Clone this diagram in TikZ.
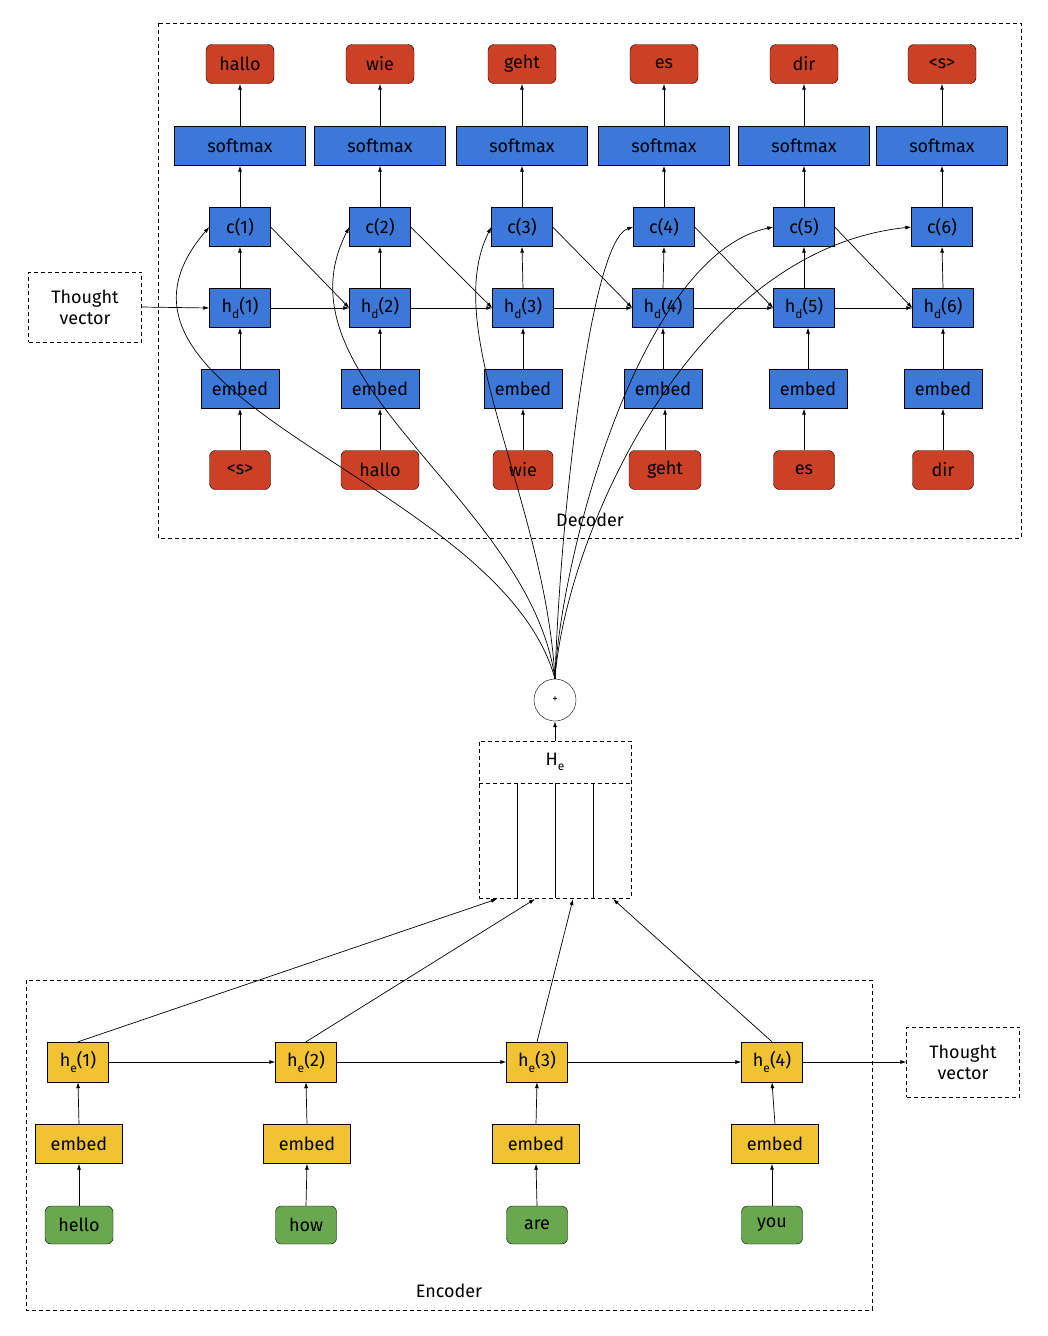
\documentclass[tikz,border=0pt]{standalone}
\usepackage{fontspec}
\setmainfont{Fira Sans}
\usetikzlibrary{arrows.meta}
\definecolor{tokred}{HTML}{CC4125}
\definecolor{layblue}{HTML}{3C78D8}
\definecolor{encyel}{HTML}{F1C232}
\definecolor{wordgrn}{HTML}{6AA84F}
\newcommand{\hsub}[2]{h\raisebox{-0.6ex}{\fontsize{12}{12}\selectfont #1}(#2)}

\begin{document}
\begin{tikzpicture}[
    x=1pt, y=-1pt,
    every node/.style={font=\fontsize{18}{21}\selectfont},
    tok/.style={draw, rectangle, rounded corners=6pt, fill=tokred, minimum width=68pt, minimum height=39pt, inner sep=0pt},
    layer/.style={draw, rectangle, fill=layblue, minimum height=39pt, inner sep=0pt},
    enc/.style={draw, rectangle, fill=encyel, minimum height=40pt, inner sep=0pt},
    word/.style={draw, rectangle, rounded corners=6pt, fill=wordgrn, minimum width=61pt, minimum height=38pt, inner sep=0pt},
    thought/.style={draw, dashed, dash pattern=on 4pt off 3pt, minimum width=113pt, minimum height=70pt, align=center},
    frame/.style={draw, dash pattern=on 4pt off 3pt},
    arr/.style={-{Latex[length=6pt,width=4pt]}, line width=0.7pt}
]
\useasboundingbox (0,0) rectangle (1047,1336);

% Decoder
\draw[frame] (158,23) rectangle (1021,538);
\node (declab) at (590,520) {Decoder};

\node[tok] (o1) at (240,64) {hallo};
\node[tok] (o2) at (380,64) {wie};
\node[tok] (o3) at (522,64) {geht};
\node[tok] (o4) at (664,64) {es};
\node[tok] (o5) at (804,64) {dir};
\node[tok] (o6) at (942,64) {<s>};

\node[layer, minimum width=131pt] (sm1) at (240,146) {softmax};
\node[layer, minimum width=131pt] (sm2) at (380,146) {softmax};
\node[layer, minimum width=131pt] (sm3) at (522,146) {softmax};
\node[layer, minimum width=131pt] (sm4) at (664,146) {softmax};
\node[layer, minimum width=131pt] (sm5) at (804,146) {softmax};
\node[layer, minimum width=131pt] (sm6) at (942,146) {softmax};

\node[layer, minimum width=61pt] (c1) at (240,227) {c(1)};
\node[layer, minimum width=61pt] (c2) at (380,227) {c(2)};
\node[layer, minimum width=61pt] (c3) at (522,227) {c(3)};
\node[layer, minimum width=61pt] (c4) at (664,227) {c(4)};
\node[layer, minimum width=61pt] (c5) at (804,227) {c(5)};
\node[layer, minimum width=61pt] (c6) at (942,227) {c(6)};

\node[layer, minimum width=61pt] (hd1) at (240,308) {\hsub{d}{1}};
\node[layer, minimum width=61pt] (hd2) at (380,308) {\hsub{d}{2}};
\node[layer, minimum width=61pt] (hd3) at (523,308) {\hsub{d}{3}};
\node[layer, minimum width=61pt] (hd4) at (663,308) {\hsub{d}{4}};
\node[layer, minimum width=61pt] (hd5) at (804,308) {\hsub{d}{5}};
\node[layer, minimum width=61pt] (hd6) at (943,308) {\hsub{d}{6}};

\node[layer, minimum width=78pt] (e1) at (240,389) {embed};
\node[layer, minimum width=78pt] (e2) at (380,389) {embed};
\node[layer, minimum width=78pt] (e3) at (523,389) {embed};
\node[layer, minimum width=78pt] (e4) at (663,389) {embed};
\node[layer, minimum width=78pt] (e5) at (808,389) {embed};
\node[layer, minimum width=78pt] (e6) at (943,389) {embed};

\node[tok, minimum width=61pt] (i1) at (240,470) {<s>};
\node[tok, minimum width=78pt] (i2) at (380,470) {hallo};
\node[tok, minimum width=60pt] (i3) at (523,470) {wie};
\node[tok, minimum width=72pt] (i4) at (665,470) {geht};
\node[tok, minimum width=61pt] (i5) at (804,470) {es};
\node[tok, minimum width=61pt] (i6) at (943,470) {dir};

\node[thought] (tvd) at (85,307) {Thought\\vector};

\draw[arr] (i1.north) -- (e1.south);
\draw[arr] (i2.north) -- (e2.south);
\draw[arr] (i3.north) -- (e3.south);
\draw[arr] (i4.north) -- (i4.north |- e4.south);
\draw[arr] (i5.north) -- (i5.north |- e5.south);
\draw[arr] (i6.north) -- (e6.south);

\draw[arr] (e1.north) -- (hd1.south);
\draw[arr] (e2.north) -- (hd2.south);
\draw[arr] (e3.north) -- (hd3.south);
\draw[arr] (e4.north) -- (hd4.south);
\draw[arr] (e5.north) -- (e5.north |- hd5.south);
\draw[arr] (e6.north) -- (hd6.south);

\draw[arr] (hd1.north) -- (c1.south);
\draw[arr] (hd2.north) -- (c2.south);
\draw[arr] (hd3.north) -- (c3.south);
\draw[arr] (hd4.north) -- (c4.south);
\draw[arr] (hd5.north) -- (c5.south);
\draw[arr] (hd6.north) -- (c6.south);

\draw[arr] (c1.north) -- (sm1.south);
\draw[arr] (c2.north) -- (sm2.south);
\draw[arr] (c3.north) -- (sm3.south);
\draw[arr] (c4.north) -- (sm4.south);
\draw[arr] (c5.north) -- (sm5.south);
\draw[arr] (c6.north) -- (sm6.south);

\draw[arr] (sm1.north) -- (o1.south);
\draw[arr] (sm2.north) -- (o2.south);
\draw[arr] (sm3.north) -- (o3.south);
\draw[arr] (sm4.north) -- (o4.south);
\draw[arr] (sm5.north) -- (o5.south);
\draw[arr] (sm6.north) -- (o6.south);

\draw[arr] (tvd.east) -- (hd1.west);
\draw[arr] (hd1.east) -- (hd2.west);
\draw[arr] (hd2.east) -- (hd3.west);
\draw[arr] (hd3.east) -- (hd4.west);
\draw[arr] (hd4.east) -- (hd5.west);
\draw[arr] (hd5.east) -- (hd6.west);

\draw[arr] (c1.east) -- (hd2.west);
\draw[arr] (c2.east) -- (hd3.west);
\draw[arr] (c3.east) -- (hd4.west);
\draw[arr] (c4.east) -- (hd5.west);
\draw[arr] (c5.east) -- (hd6.west);

% Attention
\node[draw, circle, minimum size=42pt, inner sep=0pt, font=\fontsize{11}{11}\selectfont] (plus) at (555,700) {+};

\draw[arr] (plus.north) .. controls +(-55,-199) and +(-149,173) .. (c1.west);
\draw[arr] (plus.north) .. controls +(-25,-179) and +(-79,153) .. (c2.west);
\draw[arr] (plus.north) .. controls +(-10,-179) and +(-52,103) .. (c3.west);
\draw[arr] (plus.north) .. controls +(5,-159) and +(-43,13) .. (c4.west);
\draw[arr] (plus.north) .. controls +(5,-119) and +(-134,28) .. (c5.west);
\draw[arr] (plus.north) .. controls +(10,-139) and +(-222,23) .. (c6.west);

\node[frame, minimum width=152pt, minimum height=157pt, inner sep=0pt] (hcells) at (555,819.5) {};
\node (He) at (555,762) {H\raisebox{-0.6ex}{\fontsize{12}{12}\selectfont e}};
\draw[dash pattern=on 4pt off 3pt] (479,783) -- (631,783);
\draw (517,783) -- (517,898);
\draw (555,783) -- (555,898);
\draw (593,783) -- (593,898);
\draw[arr] (hcells.north) -- (plus.south);

\coordinate (in1) at (497,899);
\coordinate (in2) at (535,899);
\coordinate (in3) at (573,899);
\coordinate (in4) at (613,899);

% Encoder
\draw[frame] (26,980) rectangle (872,1310);
\node (enclab) at (449,1291) {Encoder};

\node[enc, minimum width=61pt] (he1) at (78,1062) {\hsub{e}{1}};
\node[enc, minimum width=61pt] (he2) at (306,1062) {\hsub{e}{2}};
\node[enc, minimum width=61pt] (he3) at (537,1062) {\hsub{e}{3}};
\node[enc, minimum width=61pt] (he4) at (772,1062) {\hsub{e}{4}};

\node[enc, minimum width=87pt, minimum height=39pt] (ee1) at (79,1144) {embed};
\node[enc, minimum width=87pt, minimum height=39pt] (ee2) at (307,1144) {embed};
\node[enc, minimum width=87pt, minimum height=39pt] (ee3) at (536,1144) {embed};
\node[enc, minimum width=87pt, minimum height=39pt] (ee4) at (775,1144) {embed};

\node[word, minimum width=68pt] (w1) at (79,1225) {hello};
\node[word] (w2) at (306,1225) {how};
\node[word] (w3) at (537,1225) {are};
\node[word] (w4) at (772,1225) {you};

\node[thought] (tve) at (963,1062) {Thought\\vector};

\draw[arr] (w1.north) -- (ee1.south);
\draw[arr] (w2.north) -- (ee2.south);
\draw[arr] (w3.north) -- (ee3.south);
\draw[arr] (w4.north) -- (w4.north |- ee4.south);

\draw[arr] (ee1.north) -- (he1.south);
\draw[arr] (ee2.north) -- (he2.south);
\draw[arr] (ee3.north) -- (he3.south);
\draw[arr] (ee4.north) -- (he4.south);

\draw[arr] (he1.east) -- (he2.west);
\draw[arr] (he2.east) -- (he3.west);
\draw[arr] (he3.east) -- (he4.west);
\draw[arr] (he4.east) -- (tve.west);

\draw[arr] (he1.north) -- (in1);
\draw[arr] (he2.north) -- (in2);
\draw[arr] (he3.north) -- (in3);
\draw[arr] (he4.north) -- (in4);
\end{tikzpicture}
\end{document}
